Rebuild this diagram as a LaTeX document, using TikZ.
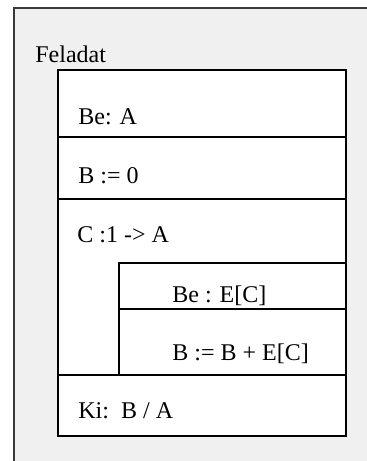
\documentclass[tikz,border=0pt]{standalone}
\usepackage{fontspec}
\setmainfont{Liberation Serif}
\usepackage{xcolor}
\definecolor{hatter}{HTML}{F0F0F0}
\definecolor{keret}{HTML}{3A3A3A}

\begin{document}
\begin{tikzpicture}[x=0.5pt, y=-0.5pt,
  sor/.style={draw, fill=white, line width=0.8pt},
  felirat/.style={anchor=base west, inner sep=0pt, font=\fontsize{12}{14}\selectfont}]
  \useasboundingbox (0,0) rectangle (367,461);
  % outer frame, cut by the picture's edge
  \fill[hatter] (14,8) rectangle (367,461);
  \draw[keret, line width=0.6pt] (14,461) -- (14,8) -- (367,8);
  \node[felirat] (cim) at (35,62) {Feladat};
  % rows
  \draw[sor] (58,70) rectangle (346,137);
  \draw[sor] (58,137) rectangle (346,199);
  \draw[sor] (58,199) rectangle (346,375);
  \draw[sor] (119,263) rectangle (346,309);
  \draw[sor] (119,309) rectangle (346,375);
  \draw[sor] (58,375) rectangle (346,436);
  % texts
  \node[felirat] (be) at (78,124) {Be: A};
  \node[felirat] (nulla) at (78,183) {B := 0};
  \node[felirat] (ciklus) at (77,242) {C :1 -> A};
  \node[felirat] (beE) at (172,302) {Be : E[C]};
  \node[felirat] (osszeg) at (172,360) {B := B + E[C]};
  \node[felirat] (ki) at (78,418) {Ki:\ \ B / A};
\end{tikzpicture}
\end{document}
